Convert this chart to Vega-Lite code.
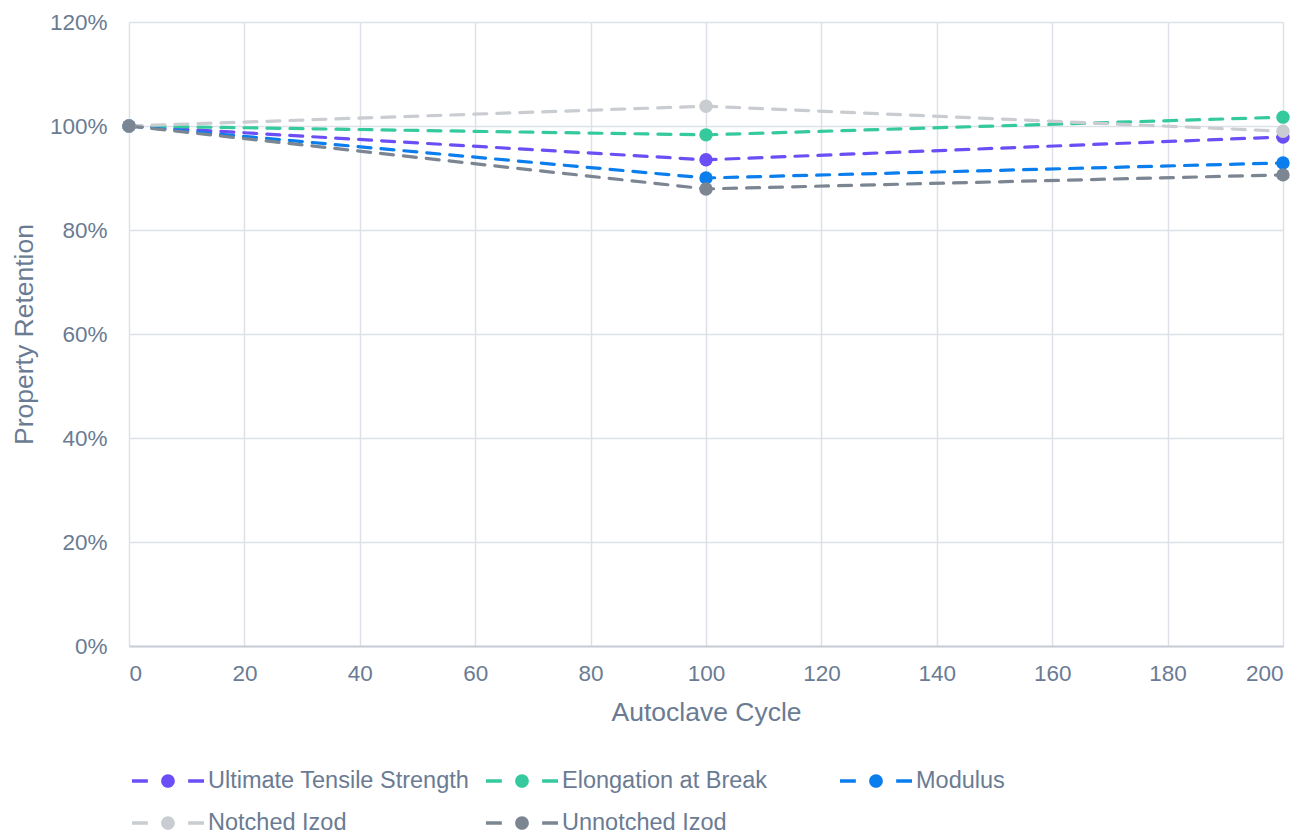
{
  "$schema": "https://vega.github.io/schema/vega-lite/v6.json",
  "autosize": {"type": "none"},
  "padding": {"left": 129, "top": 22, "right": 26, "bottom": 188},
  "width": 1154,
  "height": 624,
  "background": "white",
  "config": {
    "font": "Liberation Sans",
    "view": {"stroke": null},
    "axis": {
      "labelColor": "#6A7B93",
      "titleColor": "#6A7B93",
      "labelFontSize": 22.5,
      "titleFontSize": 26.5,
      "titleFontWeight": "normal",
      "gridColor": "#DDE1E7",
      "gridWidth": 1.5,
      "domainColor": "#C8CDD6",
      "domainWidth": 2,
      "ticks": false
    }
  },
  "data": {
    "values": [
      {"cycle": 0, "series": "Ultimate Tensile Strength", "retention": 1.0},
      {"cycle": 100, "series": "Ultimate Tensile Strength", "retention": 0.935},
      {"cycle": 200, "series": "Ultimate Tensile Strength", "retention": 0.979},
      {"cycle": 0, "series": "Elongation at Break", "retention": 1.0},
      {"cycle": 100, "series": "Elongation at Break", "retention": 0.983},
      {"cycle": 200, "series": "Elongation at Break", "retention": 1.017},
      {"cycle": 0, "series": "Modulus", "retention": 1.0},
      {"cycle": 100, "series": "Modulus", "retention": 0.90},
      {"cycle": 200, "series": "Modulus", "retention": 0.929},
      {"cycle": 0, "series": "Notched Izod", "retention": 1.0},
      {"cycle": 100, "series": "Notched Izod", "retention": 1.038},
      {"cycle": 200, "series": "Notched Izod", "retention": 0.99},
      {"cycle": 0, "series": "Unnotched Izod", "retention": 1.0},
      {"cycle": 100, "series": "Unnotched Izod", "retention": 0.879},
      {"cycle": 200, "series": "Unnotched Izod", "retention": 0.906}
    ]
  },
  "encoding": {
    "x": {
      "field": "cycle",
      "type": "quantitative",
      "title": "Autoclave Cycle",
      "scale": {"domain": [0, 200], "nice": false},
      "axis": {"values": [0, 20, 40, 60, 80, 100, 120, 140, 160, 180, 200], "labelPadding": 16, "titlePadding": 15}
    },
    "y": {
      "field": "retention",
      "type": "quantitative",
      "title": "Property Retention",
      "scale": {"domain": [0, 1.2], "nice": false},
      "axis": {"format": ".0%", "values": [0, 0.2, 0.4, 0.6, 0.8, 1.0, 1.2], "labelPadding": 22, "titlePadding": 11, "domain": false}
    },
    "color": {
      "field": "series",
      "type": "nominal",
      "sort": ["Ultimate Tensile Strength", "Elongation at Break", "Modulus", "Notched Izod", "Unnotched Izod"],
      "scale": {
        "domain": ["Ultimate Tensile Strength", "Elongation at Break", "Modulus", "Notched Izod", "Unnotched Izod"],
        "range": ["#6B4EF5", "#35C99E", "#0B7EEE", "#C9CCD1", "#7B8692"]
      },
      "legend": {
        "title": null,
        "orient": "none",
        "legendX": 3,
        "legendY": 746,
        "direction": "horizontal",
        "columns": 3,
        "gridAlign": "all",
        "columnPadding": 16,
        "rowPadding": 16,
        "clipHeight": 26,
        "labelFontSize": 23.5,
        "labelColor": "#6A7B93",
        "labelOffset": 4,
        "labelLimit": 400,
        "symbolType": "M-1,-0.05H-0.56V0.05H-1Z M-0.19,0A0.19,0.19 0 1,0 0.19,0A0.19,0.19 0 1,0 -0.19,0Z M0.56,-0.05H1V0.05H0.56Z",
        "symbolSize": 5184,
        "symbolStrokeWidth": 0,
        "symbolOpacity": 1
      }
    }
  },
  "layer": [
    {
      "mark": {"type": "line", "strokeWidth": 3.2, "strokeDash": [13, 10], "strokeCap": "round"}
    },
    {
      "mark": {"type": "point", "filled": true, "size": 180, "opacity": 1}
    }
  ]
}
